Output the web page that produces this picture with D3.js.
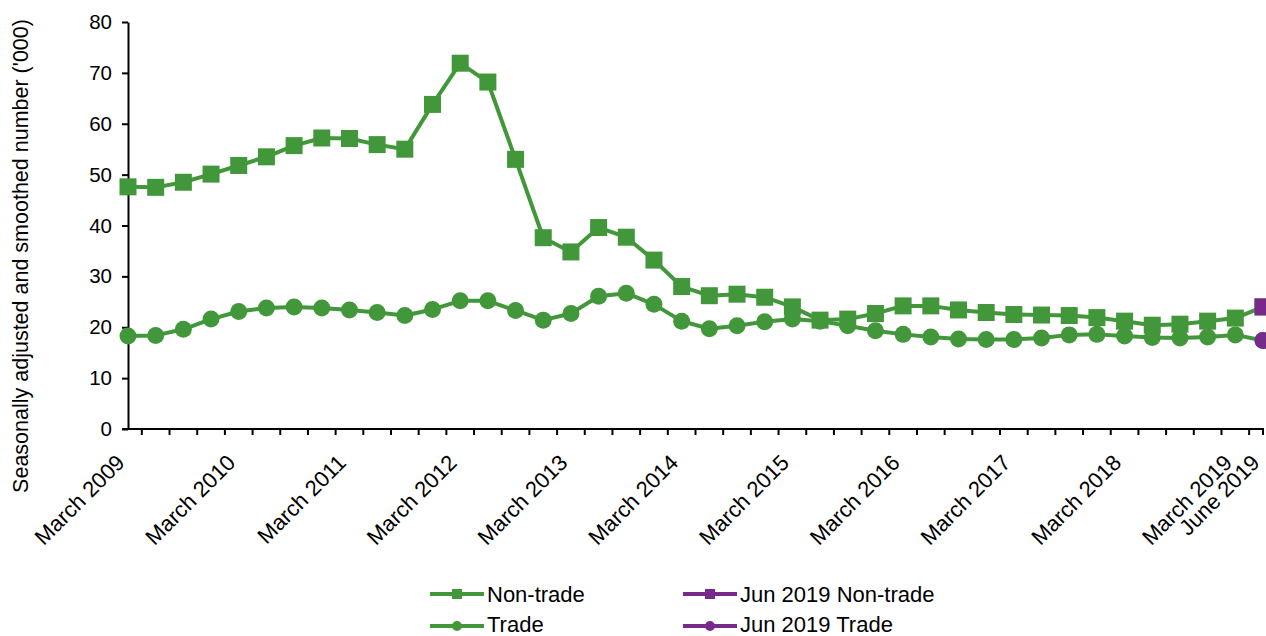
<!DOCTYPE html>
<html>
<head>
<meta charset="utf-8">
<script src="https://cdn.jsdelivr.net/npm/d3@7"></script>
<style>
  body { margin: 0; background: #fff; }
  svg { display: block; font-family: "Liberation Sans", Arial, sans-serif; }
</style>
</head>
<body>
<svg id="chart" width="1266" height="636"></svg>
<script>
// quarters shown on the x axis
const quarters = [
  "Mar 2009", "Jun 2009", "Sep 2009", "Dec 2009",
  "Mar 2010", "Jun 2010", "Sep 2010", "Dec 2010",
  "Mar 2011", "Jun 2011", "Sep 2011", "Dec 2011",
  "Mar 2012", "Jun 2012", "Sep 2012", "Dec 2012",
  "Mar 2013", "Jun 2013", "Sep 2013", "Dec 2013",
  "Mar 2014", "Jun 2014", "Sep 2014", "Dec 2014",
  "Mar 2015", "Jun 2015", "Sep 2015", "Dec 2015",
  "Mar 2016", "Jun 2016", "Sep 2016", "Dec 2016",
  "Mar 2017", "Jun 2017", "Sep 2017", "Dec 2017",
  "Mar 2018", "Jun 2018", "Sep 2018", "Dec 2018",
  "Mar 2019", "Jun 2019"
];

const nonTrade = [
  47.6, 47.5, 48.5, 50.1, 51.8, 53.5, 55.7, 57.2, 57.1, 55.9, 55.0, 63.8,
  71.9, 68.2, 53.0, 37.6, 34.8, 39.6, 37.7, 33.2, 28.0, 26.2, 26.5, 25.9,
  24.0, 21.4, 21.6, 22.7, 24.2, 24.2, 23.4, 22.9, 22.5, 22.4, 22.3, 21.9,
  21.2, 20.4, 20.6, 21.2, 21.8, 24.0
];

const trade = [
  18.3, 18.4, 19.6, 21.6, 23.1, 23.8, 24.0, 23.8, 23.4, 22.9, 22.3, 23.5,
  25.2, 25.2, 23.3, 21.4, 22.7, 26.1, 26.7, 24.5, 21.2, 19.7, 20.3, 21.1,
  21.6, 21.2, 20.3, 19.3, 18.6, 18.1, 17.7, 17.6, 17.6, 17.9, 18.5, 18.6,
  18.3, 18.0, 17.9, 18.1, 18.5, 17.4
];

// latest quarter highlighted separately
const latestQuarter = ["Jun 2019"];
const junNonTrade = [24.0];
const junTrade = [17.4];

const yTicks = [0, 10, 20, 30, 40, 50, 60, 70, 80];
const labelledQuarters = [
  "Mar 2009", "Mar 2010", "Mar 2011", "Mar 2012", "Mar 2013", "Mar 2014",
  "Mar 2015", "Mar 2016", "Mar 2017", "Mar 2018", "Mar 2019", "Jun 2019"
];
const tickLabels = [
  "March 2009", "March 2010", "March 2011", "March 2012", "March 2013", "March 2014",
  "March 2015", "March 2016", "March 2017", "March 2018", "March 2019", "June 2019"
];

const yTitle = "Seasonally adjusted and smoothed number ('000)";
const legendItems = [
  { name: "Non-trade", color: "#43973b", shape: "square" },
  { name: "Trade", color: "#43973b", shape: "circle" },
  { name: "Jun 2019 Non-trade", color: "#772a8c", shape: "square" },
  { name: "Jun 2019 Trade", color: "#772a8c", shape: "circle" }
];

const GREEN = "#43973b";
const PURPLE = "#772a8c";

const svg = d3.select('#chart');

const x = d3.scalePoint().domain(quarters).range([128, 1263]);
const y = d3.scaleLinear().domain([0, 80]).range([429, 22]);

// y axis
const gY = svg.append('g')
  .attr('transform', 'translate(128,0)')
  .call(d3.axisLeft(y).tickValues(yTicks).tickSizeInner(6).tickSizeOuter(0).tickPadding(10));
gY.select('.domain').attr('stroke', '#000').attr('stroke-width', 2);
gY.selectAll('.tick line').attr('stroke', '#000').attr('stroke-width', 2);
gY.selectAll('.tick text').attr('font-size', 20.5).attr('fill', '#000')
  .attr('font-family', '"Liberation Sans", Arial, sans-serif');

// x axis: line, ticks between quarters, rotated labels
const gX = svg.append('g');
gX.append('line')
  .attr('x1', x(quarters[0]) - 6).attr('x2', x(quarters[quarters.length - 1]) + 1)
  .attr('y1', y(0)).attr('y2', y(0))
  .attr('stroke', '#000').attr('stroke-width', 2);

const tickXs = d3.range(quarters.length - 1)
  .map(i => (x(quarters[i]) + x(quarters[i + 1])) / 2)
  .concat([x(quarters[quarters.length - 1])]);

gX.selectAll('.xtick')
  .data(tickXs)
  .enter()
  .append('line')
  .attr('class', 'xtick')
  .attr('x1', d => d).attr('x2', d => d)
  .attr('y1', y(0)).attr('y2', y(0) + 6)
  .attr('stroke', '#000').attr('stroke-width', 2);

gX.selectAll('.xlabel')
  .data(labelledQuarters)
  .enter()
  .append('text')
  .attr('class', 'xlabel')
  .attr('transform', d => `translate(${x(d) - 2},464) rotate(-45)`)
  .attr('text-anchor', 'end')
  .attr('font-size', 22)
  .attr('fill', '#000')
  .text((d, i) => tickLabels[i]);

// y title
svg.append('text')
  .attr('transform', 'translate(28,256) rotate(-90)')
  .attr('text-anchor', 'middle')
  .attr('font-size', 21.5)
  .attr('fill', '#000')
  .text(yTitle);

// series
const drawSeries = function (values, cats, color, shape) {
  const g = svg.append('g');
  if (values.length > 1) {
    g.append('path')
      .attr('d', d3.line().x((d, i) => x(cats[i])).y(d => y(d))(values))
      .attr('fill', 'none')
      .attr('stroke', color)
      .attr('stroke-width', 4)
      .attr('stroke-linejoin', 'round');
  }
  if (shape === 'square') {
    g.selectAll('rect')
      .data(values)
      .enter()
      .append('rect')
      .attr('x', (d, i) => x(cats[i]) - 8.5)
      .attr('y', d => y(d) - 8.5)
      .attr('width', 17).attr('height', 17)
      .attr('fill', color);
  } else {
    g.selectAll('circle')
      .data(values)
      .enter()
      .append('circle')
      .attr('cx', (d, i) => x(cats[i]))
      .attr('cy', d => y(d))
      .attr('r', 8.5)
      .attr('fill', color);
  }
};

drawSeries(nonTrade, quarters, GREEN, 'square');
drawSeries(trade, quarters, GREEN, 'circle');
drawSeries(junNonTrade, latestQuarter, PURPLE, 'square');
drawSeries(junTrade, latestQuarter, PURPLE, 'circle');

// legend
const legendPos = [[430, 594, 8], [430, 626, 6], [683, 594, 8], [683, 626, 6]];
const lg = svg.append('g');
legendItems.forEach((item, i) => {
  const [lx, ly, dy] = legendPos[i];
  lg.append('line')
    .attr('x1', lx).attr('x2', lx + 54)
    .attr('y1', ly).attr('y2', ly)
    .attr('stroke', item.color).attr('stroke-width', 4);
  if (item.shape === 'square') {
    lg.append('rect')
      .attr('x', lx + 27 - 5).attr('y', ly - 5)
      .attr('width', 10).attr('height', 10)
      .attr('fill', item.color);
  } else {
    lg.append('circle')
      .attr('cx', lx + 27).attr('cy', ly).attr('r', 5)
      .attr('fill', item.color);
  }
  lg.append('text')
    .attr('x', lx + 57).attr('y', ly + dy)
    .attr('font-size', 22)
    .attr('fill', '#000')
    .text(item.name);
});
</script>
</body>
</html>
